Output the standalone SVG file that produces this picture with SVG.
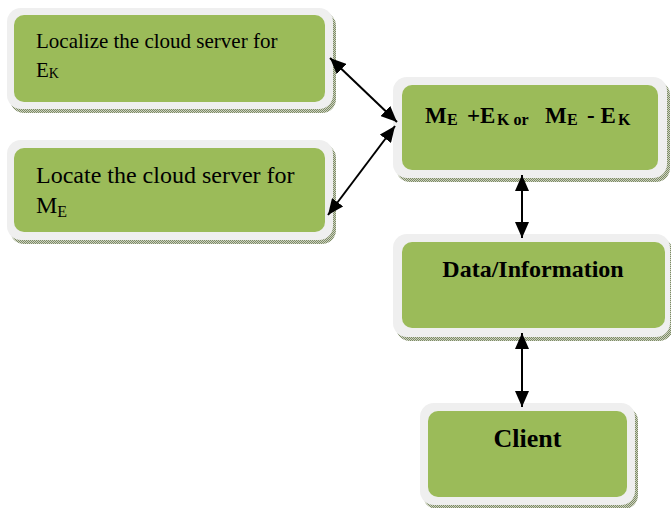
<svg xmlns="http://www.w3.org/2000/svg" width="671" height="508" viewBox="0 0 671 508">
<defs>
<pattern id="sh" width="2" height="2" patternUnits="userSpaceOnUse">
<rect width="2" height="2" fill="#cdd3c0"/>
<rect width="1" height="1" fill="#7d8a66"/>
<rect x="1" y="1" width="1" height="1" fill="#7d8a66"/>
</pattern>
<marker id="ah" viewBox="0 0 16 14" refX="16" refY="7" markerWidth="16" markerHeight="14" markerUnits="userSpaceOnUse" orient="auto-start-reverse">
<path d="M0,0 L16,7 L0,14 Z" fill="#000"/>
</marker>
<style>
.shadow{fill:url(#sh)}
.outer{fill:#efefef}
.inner{fill:#9bbb59}
.t{font-family:"Liberation Serif","Times New Roman",serif;fill:#000}
.b{font-weight:bold}
.c{stroke:#000;stroke-width:2;fill:none;marker-start:url(#ah);marker-end:url(#ah)}
</style>
</defs>
<g id="localize">
<rect class="shadow" x="10" y="12" width="326" height="101" rx="14"/>
<rect class="outer" x="7" y="8" width="326" height="101" rx="14"/>
<rect class="inner" x="14" y="15" width="311" height="87" rx="10"/>
<text class="t" x="36" y="48" font-size="21">Localize the cloud server for</text>
<text class="t" x="36" y="77" font-size="21">E<tspan font-size="14" dy="1">K</tspan></text>
</g>
<g id="locate">
<rect class="shadow" x="10" y="144" width="326" height="100" rx="14"/>
<rect class="outer" x="7" y="140" width="326" height="100" rx="14"/>
<rect class="inner" x="14" y="148" width="311" height="84" rx="10"/>
<text class="t" x="36" y="183" font-size="24">Locate the cloud server for</text>
<text class="t" x="36" y="213" font-size="24">M<tspan font-size="16" dy="4">E</tspan></text>
</g>
<g id="combine">
<rect class="shadow" x="396" y="81" width="274" height="101" rx="14"/>
<rect class="outer" x="393" y="77" width="274" height="101" rx="14"/>
<rect class="inner" x="402" y="85" width="256" height="85" rx="10"/>
<text class="t b" y="123" font-size="23"><tspan x="425">M</tspan><tspan x="447" font-size="16" dy="2">E</tspan><tspan x="467" dy="-2">+E</tspan><tspan x="497" font-size="16" dy="2">K or</tspan><tspan x="545" dy="-2">M</tspan><tspan x="567" font-size="16" dy="2">E</tspan><tspan x="587" dy="-2">- E</tspan><tspan x="618" font-size="16" dy="2">K</tspan></text>
</g>
<g id="data">
<rect class="shadow" x="396" y="238" width="277" height="103" rx="14"/>
<rect class="outer" x="393" y="234" width="277" height="103" rx="14"/>
<rect class="inner" x="402" y="242" width="263" height="86" rx="10"/>
<text class="t b" x="533" y="277" font-size="24" text-anchor="middle">Data/Information</text>
</g>
<g id="client">
<rect class="shadow" x="423" y="407" width="215" height="102" rx="14"/>
<rect class="outer" x="420" y="403" width="215" height="102" rx="14"/>
<rect class="inner" x="428" y="411" width="199" height="86" rx="10"/>
<text class="t b" x="527.5" y="447" font-size="26" text-anchor="middle">Client</text>
</g>
<g id="connectors">
<line class="c" x1="330" y1="58" x2="397" y2="122"/>
<line class="c" x1="395" y1="126" x2="328" y2="215"/>
<line class="c" x1="522" y1="175" x2="522" y2="238"/>
<line class="c" x1="522" y1="333" x2="522" y2="407"/>
</g>
</svg>
